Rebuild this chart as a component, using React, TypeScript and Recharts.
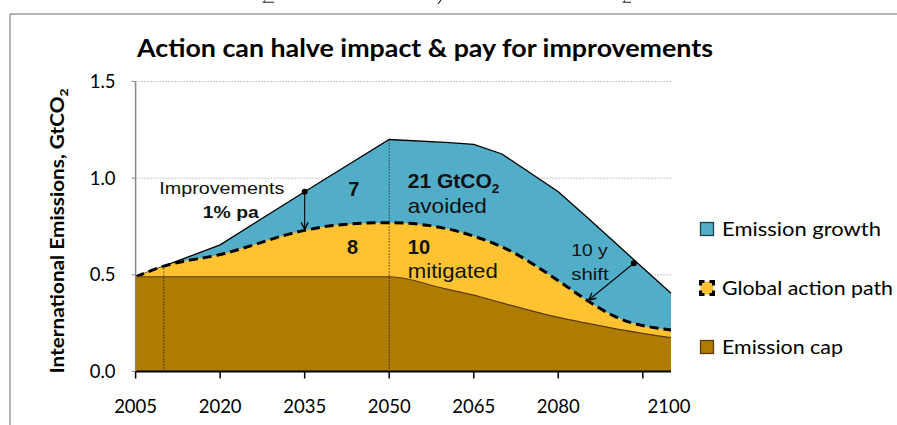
import React from 'react';
import {
  ComposedChart,
  Area,
  XAxis,
  YAxis,
  CartesianGrid,
  ReferenceLine,
  ReferenceDot,
} from 'recharts';

// ---- data ----
const years = [2005, 2010, 2020, 2035, 2040, 2050, 2060, 2065, 2070, 2080, 2085, 2090, 2100];
const emissionGrowth = [0.49, 0.545, 0.655, 0.93, 1.02, 1.2, 1.185, 1.175, 1.125, 0.93, 0.8, 0.668, 0.405];
const globalActionPath = [0.49, 0.545, 0.605, 0.73, 0.755, 0.77, 0.74, 0.7, 0.645, 0.47, 0.37, 0.285, 0.215];
const emissionCap = [0.49, 0.49, 0.49, 0.49, 0.49, 0.49, 0.427, 0.395, 0.355, 0.28, 0.25, 0.222, 0.175];

const xTicks = [2005, 2020, 2035, 2050, 2065, 2080, 2095, 2100];
const yTicks = [0, 0.5, 1.0, 1.5];
const seriesNames = ['Emission growth', 'Global action path', 'Emission cap'];
const chartTitle = 'Action can halve impact & pay for improvements';

const data = years.map((year, i) => ({
  year,
  growth: emissionGrowth[i],
  action: globalActionPath[i],
  cap: emissionCap[i],
}));

// annotations (data coordinates)
const annotations = [
  { x: 2020.3, y: 0.918, text: 'Improvements', bold: false, size: 17, anchor: 'middle', w: 125 },
  { x: 2021.9, y: 0.794, text: '1% pa', bold: true, size: 17, anchor: 'middle', w: 56 },
  { x: 2043.7, y: 0.908, text: '7', bold: true, size: 20, anchor: 'middle', w: 0 },
  { x: 2043.5, y: 0.61, text: '8', bold: true, size: 20, anchor: 'middle', w: 0 },
  { x: 2053.3, y: 0.82, text: 'avoided', bold: false, size: 21, anchor: 'start', w: 79 },
  { x: 2053.3, y: 0.608, text: '10', bold: true, size: 20, anchor: 'start', w: 0 },
  { x: 2053.3, y: 0.484, text: 'mitigated', bold: false, size: 21, anchor: 'start', w: 90 },
  { x: 2082.3, y: 0.597, text: '10 y', bold: false, size: 17, anchor: 'start', w: 36.5 },
  { x: 2082.3, y: 0.473, text: 'shift', bold: false, size: 17, anchor: 'start', w: 37.5 },
];
const avoidedLabel = { x: 2053.3, y: 0.949, main: '21 GtCO', sub: '2' };

const arrows = [
  { from: { x: 2035, y: 0.93 }, to: { x: 2035, y: 0.735 } },
  { from: { x: 2093.4, y: 0.56 }, to: { x: 2085.4, y: 0.37 } },
];
const guideLines = [
  [{ x: 2010, y: 0 }, { x: 2010, y: 0.545 }],
  [{ x: 2050, y: 0 }, { x: 2050, y: 1.2 }],
];

const BLUE = '#52AEC8';
const YELLOW = '#FFC331';
const BROWN = '#AE7C00';
const CALIBRI = 'Lato, "Noto Sans", sans-serif';
const ARIAL = '"Liberation Sans", Arial, sans-serif';

const ArrowShape = (props: any) => {
  const { x1, y1, x2, y2 } = props;
  const dx = x2 - x1;
  const dy = y2 - y1;
  const len = Math.hypot(dx, dy) || 1;
  const ux = dx / len;
  const uy = dy / len;
  const hl = 7;
  const hw = 3.5;
  const bx = x2 - ux * hl;
  const by = y2 - uy * hl;
  const p1 = `${bx - uy * hw},${by + ux * hw}`;
  const p2 = `${bx + uy * hw},${by - ux * hw}`;
  return (
    <g>
      <line x1={x1} y1={y1} x2={x2} y2={y2} stroke="#000" strokeWidth={1.1} />
      <polyline points={`${p1} ${x2},${y2} ${p2}`} fill="none" stroke="#000" strokeWidth={1.3} />
    </g>
  );
};

const XTick = (props: any) => {
  const { x, y, payload } = props;
  const v = payload.value;
  return (
    <g>
      {v !== 2100 && <line x1={x} x2={x} y1={y} y2={y + 7} stroke="#000" strokeWidth={1.5} />}
      {v !== 2095 && (
        <text x={v === 2100 ? x - 2 : x} y={y + 41} textAnchor="middle" fontFamily={CALIBRI} fontSize={18.5} fill="#000">
          {v}
        </text>
      )}
    </g>
  );
};

export default function App() {
  const legendY = [229, 288, 347];
  const legendFill = [BLUE, YELLOW, BROWN];
  const legendWidths = [159, 171, 121];
  return (
    <div style={{ position: 'absolute', left: 0, top: 0, width: 897, height: 425, background: '#fff', fontFamily: CALIBRI }}>
      <ComposedChart width={897} height={425} data={data} margin={{ top: 81.5, right: 226, bottom: 0, left: 0 }}>
        <CartesianGrid horizontal vertical={false} stroke="#8c8c8c" strokeDasharray="1 2" />
        <XAxis
          dataKey="year"
          type="number"
          domain={[2005, 2100]}
          ticks={xTicks}
          interval={0}
          height={53.5}
          axisLine={{ stroke: '#000', strokeWidth: 2 }}
          tickLine={false}
          tickSize={0}
          tickMargin={0}
          tick={<XTick />}
        />
        <YAxis
          type="number"
          domain={[0, 1.5]}
          ticks={yTicks}
          width={135.6}
          axisLine={{ stroke: '#888', strokeWidth: 1.5 }}
          tickLine={{ stroke: '#888' }}
          tickSize={4}
          tickMargin={16}
          tickFormatter={(v: number) => v.toFixed(1)}
          tick={{ fontFamily: CALIBRI, fontSize: 18.5, fill: '#000' }}
        />
        <Area
          type="linear"
          dataKey="growth"
          name={seriesNames[0]}
          stroke="#000"
          strokeWidth={1.3}
          fill={BLUE}
          fillOpacity={1}
          dot={false}
          activeDot={false}
          isAnimationActive={false}
        />
        <Area
          type="monotone"
          dataKey="action"
          name={seriesNames[1]}
          stroke="#000"
          strokeWidth={3}
          strokeDasharray="9 5"
          fill={YELLOW}
          fillOpacity={1}
          dot={false}
          activeDot={false}
          isAnimationActive={false}
        />
        <Area
          type="monotone"
          dataKey="cap"
          name={seriesNames[2]}
          stroke="#5b3b12"
          strokeWidth={1.2}
          fill={BROWN}
          fillOpacity={1}
          dot={false}
          activeDot={false}
          isAnimationActive={false}
        />
        {guideLines.map((seg, i) => (
          <ReferenceLine key={`g${i}`} segment={seg} stroke="#000" strokeWidth={1} strokeDasharray="1 2" />
        ))}
        {arrows.map((a, i) => (
          <ReferenceLine key={`a${i}`} segment={[a.from, a.to]} shape={<ArrowShape />} />
        ))}
        {arrows.map((a, i) => (
          <ReferenceDot key={`d${i}`} x={a.from.x} y={a.from.y} r={3} fill="#000" stroke="none" />
        ))}
        {annotations.map((t, i) => (
          <ReferenceDot
            key={`t${i}`}
            x={t.x}
            y={t.y}
            r={0}
            shape={(p: any) => (
              <text
                x={p.cx}
                y={p.cy}
                textAnchor={t.anchor as any}
                fontFamily={ARIAL}
                fontWeight={t.bold ? 700 : 400}
                fontSize={t.size}
                fill="#111"
                {...(t.w ? { textLength: t.w, lengthAdjust: 'spacingAndGlyphs' } : {})}
              >
                {t.text}
              </text>
            )}
          />
        ))}
        <ReferenceDot
          x={avoidedLabel.x}
          y={avoidedLabel.y}
          r={0}
          shape={(p: any) => (
            <text x={p.cx} y={p.cy} fontFamily={ARIAL} fontWeight={700} fontSize={21} fill="#111">
              {avoidedLabel.main}
              <tspan fontSize={13.5} dy={5}>{avoidedLabel.sub}</tspan>
            </text>
          )}
        />
      </ComposedChart>
      <svg width={897} height={425} style={{ position: 'absolute', left: 0, top: 0, pointerEvents: 'none' }}>
        <path d="M265,0.5 L263.5,2.2 L274,2.2" fill="none" stroke="#222" strokeWidth={1.1} />
        <path d="M441,0 L438,4" fill="none" stroke="#222" strokeWidth={1.2} />
        <path d="M625,0.5 L623.5,2.2 L631,2.2" fill="none" stroke="#222" strokeWidth={1.1} />
        <line x1={10} y1={14} x2={897} y2={14} stroke="#9a9a9a" strokeWidth={1.5} />
        <line x1={10} y1={14} x2={10} y2={425} stroke="#9a9a9a" strokeWidth={1.5} />
        <text
          x={137}
          y={57}
          fontFamily={CALIBRI}
          fontWeight={700}
          fontSize={24}
          fill="#000"
          textLength={576}
          lengthAdjust="spacingAndGlyphs"
        >
          {chartTitle}
        </text>
        <text
          transform="translate(64,231) rotate(-90)"
          textAnchor="middle"
          fontFamily={CALIBRI}
          fontWeight={700}
          fontSize={18}
          fill="#000"
          textLength={285}
          lengthAdjust="spacingAndGlyphs"
        >
          International Emissions, GtCO<tspan fontSize={12} dy={4}>2</tspan>
        </text>
        {seriesNames.map((name, i) => (
          <g key={name}>
            {i === 1 ? (
              <rect x={700.5} y={legendY[i] - 6.5} width={13} height={13} fill={YELLOW} stroke="#000" strokeWidth={3} strokeDasharray="8 5" strokeDashoffset={4} />
            ) : (
              <rect x={700.5} y={legendY[i] - 6.5} width={13} height={13} fill={legendFill[i]} stroke={i === 0 ? '#1f3f4a' : '#5b3b12'} strokeWidth={1.3} />
            )}
            <text
              x={722}
              y={legendY[i] + 6.5}
              fontFamily={CALIBRI}
              fontSize={19}
              fill="#000"
              textLength={legendWidths[i]}
              lengthAdjust="spacingAndGlyphs"
            >
              {name}
            </text>
          </g>
        ))}
      </svg>
    </div>
  );
}
